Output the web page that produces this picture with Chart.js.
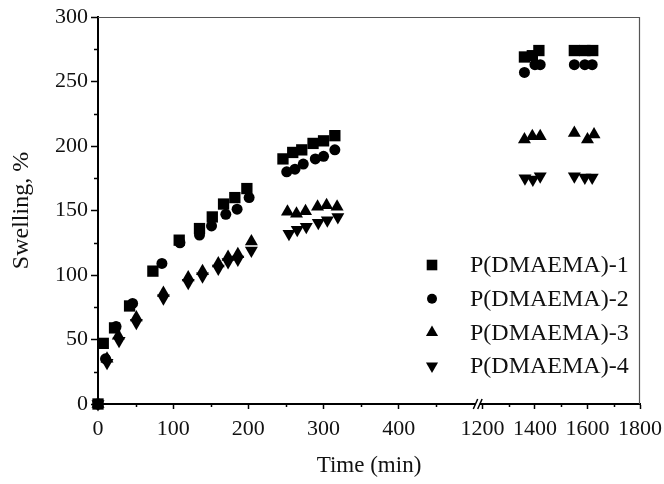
<!DOCTYPE html>
<html>
<head>
<meta charset="utf-8">
<script src="https://cdn.jsdelivr.net/npm/chart.js@4.4.1/dist/chart.umd.min.js"></script>
<style>
  html, body { margin: 0; padding: 0; background: #fff; }
</style>
</head>
<body>
<canvas id="swellChart" width="664" height="484"></canvas>
<script>
// Data (time in min, swelling in %)
const seriesNames = ['P(DMAEMA)-1', 'P(DMAEMA)-2', 'P(DMAEMA)-3', 'P(DMAEMA)-4'];

const time1  = [0, 7, 22, 42, 73, 108, 135, 152, 167, 182, 198, 246, 259, 271, 286, 300, 315, 1360, 1390, 1415, 1550, 1590, 1620];
const swell1 = [0, 47, 59, 76, 103, 127, 136, 145, 155, 160, 167, 190, 195, 197, 202, 204, 208, 269, 270, 274, 274, 274, 274];

const time2  = [0, 10, 24, 46, 85, 109, 135, 151, 170, 185, 201, 251, 262, 273, 289, 300, 315, 1360, 1400, 1420, 1550, 1590, 1618];
const swell2 = [0, 35, 60, 78, 109, 125, 131, 138, 147, 151, 160, 180, 182, 186, 190, 192, 197, 257, 263, 263, 263, 263, 263];

const time3  = [0, 12, 27, 51, 87, 120, 139, 160, 173, 186, 204, 252, 264, 276, 292, 304, 318, 1360, 1390, 1420, 1550, 1600, 1625];
const swell3 = [0, 35, 53, 67, 86, 98, 103, 109, 114, 116, 126, 149, 147.5, 149.5, 153, 154, 153, 205, 207.5, 207.5, 210, 205, 209];

const time4  = [0, 12, 28, 51, 87, 120, 139, 160, 173, 186, 204, 254, 265, 277, 293, 305, 319, 1362, 1392, 1420, 1550, 1590, 1618];
const swell4 = [0, 32, 49, 63, 82, 94, 99, 105, 110, 112, 119, 132, 135, 137.5, 140.5, 142.5, 145, 175, 174, 176.5, 176.5, 175.5, 175.5];

// Axis ticks
const xTicks = [0, 100, 200, 300, 400, 1200, 1400, 1600, 1800];
const xMinorTicks = [50, 150, 250, 350, 450, 1300, 1500, 1700];
const yMinorTicks = [25, 75, 125, 175, 225, 275];

// Broken x axis: 0..505 at full scale, 1182..1800 compressed
const LEFT_END = 505;
const RIGHT_START = 1182;
const RIGHT_RATIO = 0.3493;
const X_MIN = 0;
const X_MAX = 1800;

const FONT = '"Liberation Serif", "Times New Roman", serif';

function squeeze(v) {
  if (v <= LEFT_END) return v;
  return LEFT_END + Math.max(0, v - RIGHT_START) * RIGHT_RATIO;
}
function stretch(u) {
  if (u <= LEFT_END) return u;
  return RIGHT_START + (u - LEFT_END) / RIGHT_RATIO;
}

/**********************************************************/
/*   Linear scale with a gap between the two segments     */
/**********************************************************/
class BrokenScale extends Chart.LinearScale {
  determineDataLimits() {
    this.min = squeeze(X_MIN);
    this.max = squeeze(X_MAX);
  }
  buildTicks() {
    return xTicks.map(v => ({ value: v }));
  }
  getPixelForValue(value) {
    return super.getPixelForValue(squeeze(value));
  }
  getValueForPixel(pixel) {
    return stretch(super.getValueForPixel(pixel));
  }
}
BrokenScale.id = 'brokenLinear';
BrokenScale.defaults = Chart.LinearScale.defaults;
Chart.register(BrokenScale);

function toPoints(xs, ys) {
  return xs.map((x, i) => ({ x: x, y: ys[i] }));
}

// Frame, minor ticks, axis break and legend
const decorPlugin = {
  id: 'decor',
  beforeDatasetsDraw(chart) {
    const { ctx, chartArea } = chart;
    ctx.save();
    ctx.strokeStyle = '#555';
    ctx.lineWidth = 1.2;
    ctx.beginPath();
    ctx.moveTo(chartArea.left, chartArea.top + 0.5);
    ctx.lineTo(chartArea.right - 0.5, chartArea.top + 0.5);
    ctx.lineTo(chartArea.right - 0.5, chartArea.bottom);
    ctx.stroke();
    ctx.restore();
  },
  afterDraw(chart) {
    const { ctx, chartArea } = chart;
    const xs = chart.scales.x;
    const ys = chart.scales.y;
    ctx.save();
    ctx.strokeStyle = '#000';
    ctx.lineWidth = 1.5;
    ctx.beginPath();
    xMinorTicks.forEach(v => {
      const px = Math.round(xs.getPixelForValue(v)) + 0.5;
      ctx.moveTo(px, chartArea.bottom);
      ctx.lineTo(px, chartArea.bottom + 3);
    });
    yMinorTicks.forEach(v => {
      const py = Math.round(ys.getPixelForValue(v)) + 0.5;
      ctx.moveTo(chartArea.left, py);
      ctx.lineTo(chartArea.left - 4, py);
    });
    ctx.stroke();

    // axis break "//"
    const bx = xs.getPixelForValue(LEFT_END);
    const by = chartArea.bottom;
    ctx.fillStyle = '#fff';
    ctx.fillRect(bx - 2, by - 2, 4, 4);
    ctx.lineWidth = 1.5;
    ctx.beginPath();
    [-2.2, 2.2].forEach(d => {
      ctx.moveTo(bx + d - 2.2, by + 5);
      ctx.lineTo(bx + d + 2.2, by - 5);
    });
    ctx.stroke();

    // legend
    chart.data.datasets.forEach((ds, i) => {
      const y = chartArea.bottom - 139 + i * 33.7;
      ctx.fillStyle = '#000';
      Chart.helpers.drawPoint(ctx, {
        pointStyle: ds.pointStyle,
        rotation: ds.pointRotation || 0,
        radius: ds.pointRadius - 0.5,
        borderWidth: 0
      }, chartArea.right - 208, y);
      ctx.font = '24px ' + FONT;
      ctx.textBaseline = 'middle';
      ctx.textAlign = 'left';
      ctx.fillStyle = '#111';
      ctx.fillText(ds.label, chartArea.right - 170, y + 1);
    });
    ctx.restore();
  }
};

function makeSet(label, xs, ys, style, radius, rotation) {
  return {
    label: label,
    data: toPoints(xs, ys),
    pointStyle: style,
    pointRadius: radius,
    pointRotation: rotation,
    pointBackgroundColor: '#000',
    pointBorderWidth: 0,
    showLine: false,
    clip: false
  };
}

new Chart(document.getElementById('swellChart'), {
  type: 'scatter',
  data: {
    datasets: [
      makeSet(seriesNames[0], time1, swell1, 'rect', 8, 0),
      makeSet(seriesNames[1], time2, swell2, 'circle', 5.5, 0),
      makeSet(seriesNames[2], time3, swell3, 'triangle', 7.5, 0),
      makeSet(seriesNames[3], time4, swell4, 'triangle', 7.5, 180)
    ]
  },
  options: {
    responsive: false,
    animation: false,
    devicePixelRatio: 1,
    layout: { padding: { left: 0, top: 17, right: 24, bottom: 0 } },
    plugins: {
      legend: { display: false },
      tooltip: { enabled: false }
    },
    scales: {
      x: {
        type: 'brokenLinear',
        afterFit(scale) {
          scale.height = 80;
          scale.paddingLeft = 0;
          scale.paddingRight = 0;
        },
        grid: { drawOnChartArea: false, tickLength: 5, tickColor: '#000', tickWidth: 1.5 },
        border: { display: true, color: '#000', width: 2 },
        ticks: {
          autoSkip: false,
          maxRotation: 0,
          padding: 7,
          color: '#111',
          font: { family: FONT, size: 22 },
          callback: v => String(v)
        },
        title: {
          display: true,
          text: 'Time (min)',
          color: '#111',
          font: { family: FONT, size: 23 },
          padding: { top: 0, bottom: 4 }
        }
      },
      y: {
        min: 0,
        max: 300,
        afterFit(scale) {
          scale.width = 98;
          scale.paddingTop = 0;
          scale.paddingBottom = 0;
        },
        grid: { drawOnChartArea: false, tickLength: 7, tickColor: '#000', tickWidth: 1.5 },
        border: { display: true, color: '#000', width: 2 },
        ticks: {
          stepSize: 50,
          padding: 3,
          color: '#111',
          font: { family: FONT, size: 22 },
          callback: v => String(v)
        },
        title: {
          display: true,
          text: 'Swelling, %',
          color: '#111',
          font: { family: FONT, size: 24 },
          padding: { top: 7, bottom: 0 }
        }
      }
    }
  },
  plugins: [decorPlugin]
});
</script>
</body>
</html>
